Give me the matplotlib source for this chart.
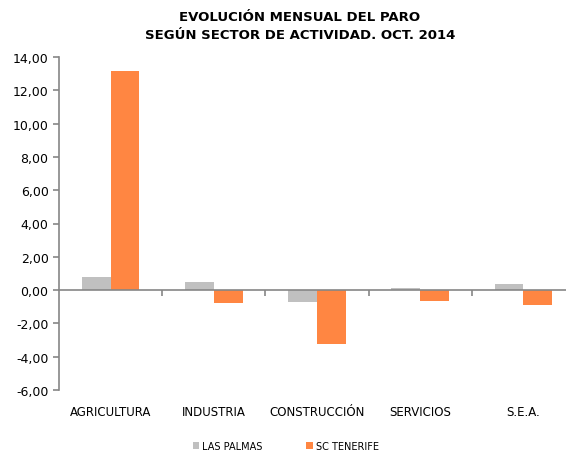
import numpy as np
import matplotlib.pyplot as plt
from matplotlib.ticker import FuncFormatter

categories = ["AGRICULTURA", "INDUSTRIA", "CONSTRUCCIÓN", "SERVICIOS", "S.E.A."]
las_palmas = [0.80, 0.46, -0.70, 0.12, 0.36]
sc_tenerife = [13.15, -0.76, -3.22, -0.66, -0.88]
series_names = ["LAS PALMAS", "SC TENERIFE"]

gray = "#C0C0C0"
orange = "#FF8642"
axis_col = "#868686"

fig = plt.figure(figsize=(5.66, 4.52), dpi=100)
ax = fig.add_axes([59 / 566, 61 / 452, 516 / 566, 333 / 452])

x = np.arange(len(categories))
w = 0.28
ax.bar(x - w / 2, las_palmas, w, color=gray, label=series_names[0])
ax.bar(x + w / 2, sc_tenerife, w, color=orange, label=series_names[1])

ax.set_xlim(-0.5, len(categories) - 0.5)
ax.set_ylim(-6, 14)
ax.set_yticks(np.arange(-6, 15, 2))
ax.yaxis.set_major_formatter(FuncFormatter(lambda v, p: f"{v:.2f}".replace(".", ",")))

for s in ["top", "right"]:
    ax.spines[s].set_visible(False)
ax.spines["left"].set_color(axis_col)
ax.spines["bottom"].set_color(axis_col)
ax.spines["bottom"].set_position(("data", 0))
ax.spines["left"].set_linewidth(1.2)
ax.spines["bottom"].set_linewidth(1.2)

ax.tick_params(axis="y", colors=axis_col, labelcolor="black", labelsize=9, length=4, width=1.2)
ax.set_xticks(x)
ax.set_xticklabels(categories)
ax.set_xticks(np.arange(0.5, len(categories) - 0.5), minor=True)
ax.tick_params(axis="x", which="major", length=0, pad=83, labelsize=8.5)
ax.tick_params(axis="x", which="minor", length=4, width=1.2, color=axis_col)

fig.text(0.53, 0.975, "EVOLUCIÓN MENSUAL DEL PARO\nSEGÚN SECTOR DE ACTIVIDAD. OCT. 2014",
         ha="center", va="top", fontsize=9.5, fontweight="bold", linespacing=1.5)

leg = fig.legend(loc="lower center", bbox_to_anchor=(0.505, -0.02), ncol=2, frameon=False,
                 fontsize=7, handlelength=0.7, handleheight=0.7, columnspacing=4.5, handletextpad=0.3)

fig.savefig("out.png", dpi=100)
